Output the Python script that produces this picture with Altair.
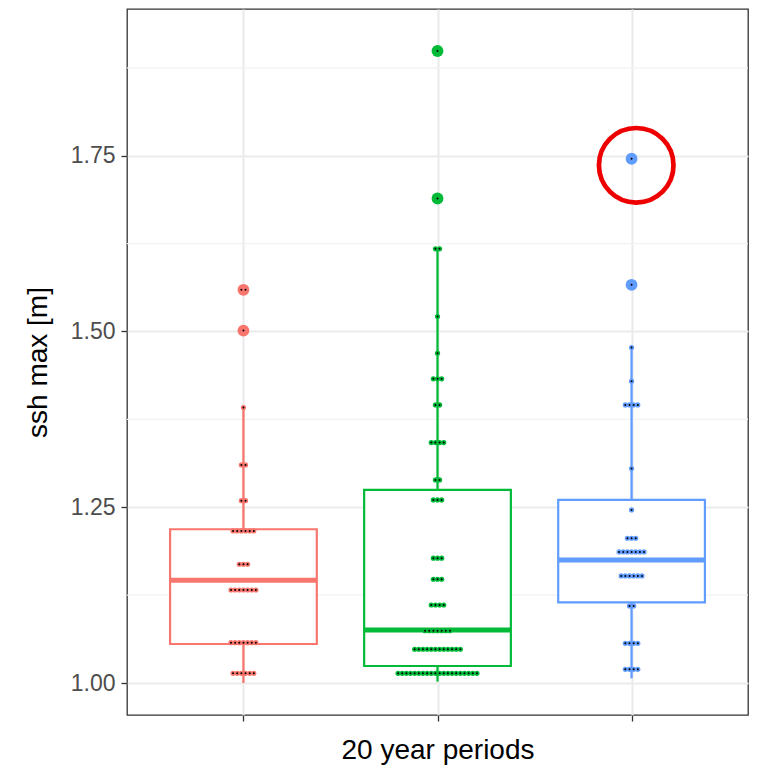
import altair as alt
import pandas as pd

# ---- data ----
group_pos = [1, 2, 3]
group_colors = ["#F8766D", "#00BA38", "#619CFF"]

# box statistics per group
box_q1 = [1.0555, 1.0242, 1.1148]
box_median = [1.1462, 1.0754, 1.1750]
box_q3 = [1.2187, 1.2747, 1.2604]
whisker_low = [1.000, 1.002, 1.0067]
whisker_high = [1.3918, 1.6176, 1.4772]

# outliers per group
outliers_1 = [1.5593, 1.5013]
outliers_2 = [1.8990, 1.6892]
outliers_3 = [1.7457, 1.5664]

# dot-plot bins (value, count) per group
dots_1_values = [1.5593, 1.5013, 1.3918, 1.3102, 1.2594, 1.2163, 1.1689, 1.1323, 1.0574, 1.0138]
dots_1_counts = [2, 1, 1, 2, 2, 6, 3, 7, 7, 6]
dots_2_values = [1.8990, 1.6892, 1.6176, 1.5213, 1.4692, 1.4326, 1.3956, 1.3420, 1.2889, 1.2604,
                 1.1775, 1.1476, 1.1110, 1.0744, 1.0480, 1.0138]
dots_2_counts = [1, 1, 2, 1, 1, 3, 2, 4, 2, 3, 3, 3, 4, 7, 12, 20]
dots_3_values = [1.7457, 1.5664, 1.4772, 1.4293, 1.3956, 1.3050, 1.2462, 1.2059, 1.1864, 1.1523,
                 1.1096, 1.0565, 1.0195]
dots_3_counts = [1, 1, 1, 1, 4, 1, 1, 3, 7, 6, 2, 4, 4]

minor_grid = [1.125, 1.375, 1.625, 1.875]
y_ticks = [1.00, 1.25, 1.50, 1.75]

# highlighted point (red circle annotation)
highlight_group = [3.024]
highlight_value = [1.7364]

# ---- build tables ----
BOX_HALF = 0.378
DOT_STEP = 0.0214

box_df = pd.DataFrame({
    "g": [str(p) for p in group_pos],
    "x": [p - BOX_HALF for p in group_pos],
    "x2": [p + BOX_HALF for p in group_pos],
    "xc": group_pos,
    "q1": box_q1, "med": box_median, "q3": box_q3,
    "lo": whisker_low, "hi": whisker_high,
})

out_rows = []
for p, vals in zip(group_pos, [outliers_1, outliers_2, outliers_3]):
    for v in vals:
        out_rows.append({"g": str(p), "x": p, "v": v})
out_df = pd.DataFrame(out_rows)

dot_rows = []
for p, vals, cnts in zip(group_pos, [dots_1_values, dots_2_values, dots_3_values],
                         [dots_1_counts, dots_2_counts, dots_3_counts]):
    for v, n in zip(vals, cnts):
        for i in range(n):
            dot_rows.append({"g": str(p), "x": p + (i - (n - 1) / 2) * DOT_STEP, "v": v})
dot_df = pd.DataFrame(dot_rows)

minor_df = pd.DataFrame({"v": minor_grid})
hl_df = pd.DataFrame({"x": highlight_group, "v": highlight_value})

# ---- scales / axes ----
xs = alt.Scale(domain=[0.4, 3.6], nice=False, zero=False)
ys = alt.Scale(domain=[0.9545, 1.9587], nice=False, zero=False)
color_scale = alt.Scale(domain=["1", "2", "3"], range=group_colors)

x_axis = alt.Axis(values=group_pos, labels=False, ticks=True, tickSize=6, tickColor="#333333",
                  tickWidth=1.3, grid=True, gridColor="#EBEBEB", gridWidth=2.2, domain=False,
                  title="20 year periods", titleFontSize=28, titleFont="Liberation Sans",
                  titleFontWeight="normal", titleColor="#000000", titlePadding=15)
y_axis = alt.Axis(values=y_ticks, format=".2f", labelFontSize=23, labelFont="Liberation Sans",
                  labelColor="#4D4D4D", labelPadding=6, ticks=True, tickSize=6, tickColor="#333333",
                  tickWidth=1.3, grid=True, gridColor="#EBEBEB", gridWidth=2.2, domain=False,
                  title="ssh max [m]", titleFontSize=28, titleFont="Liberation Sans",
                  titleFontWeight="normal", titleColor="#000000", titlePadding=18)


def X(field):
    return alt.X(field, type="quantitative", scale=xs, axis=x_axis)


def Y(field):
    return alt.Y(field, type="quantitative", scale=ys, axis=y_axis)


col = alt.Color("g:N", scale=color_scale, legend=None)

minor = alt.Chart(minor_df).mark_rule(color="#F2F2F2", strokeWidth=1.1).encode(y=Y("v"))

whisk_hi = alt.Chart(box_df).mark_rule(strokeWidth=2.3).encode(
    x=X("xc"), y=Y("q3"), y2="hi", color=col)
whisk_lo = alt.Chart(box_df).mark_rule(strokeWidth=2.3).encode(
    x=X("xc"), y=Y("lo"), y2="q1", color=col)
box = alt.Chart(box_df).mark_rect(fill="white", strokeWidth=2.2).encode(
    x=X("x"), x2="x2", y=Y("q1"), y2="q3", stroke=alt.Stroke("g:N", scale=color_scale, legend=None))
med = alt.Chart(box_df).mark_rule(strokeWidth=5).encode(
    x=X("x"), x2="x2", y=Y("med"), color=col)

outl = alt.Chart(out_df).mark_point(filled=True, shape="circle", size=140, opacity=1).encode(
    x=X("x"), y=Y("v"), color=col)

dots_ring = alt.Chart(dot_df).mark_point(filled=True, shape="circle", size=27, opacity=1).encode(
    x=X("x"), y=Y("v"), color=col)
dots_core = alt.Chart(dot_df).mark_point(filled=True, shape="circle", size=4, opacity=1,
                                         color="#000000").encode(x=X("x"), y=Y("v"))

hl = alt.Chart(hl_df).mark_point(shape="circle", filled=False, size=5560, strokeWidth=4.7,
                                 color="#EE0000", opacity=1).encode(x=X("x"), y=Y("v"))

chart = alt.layer(minor, whisk_hi, whisk_lo, box, med, outl, dots_ring, dots_core, hl).properties(
    width=621, height=706,
    autosize=alt.AutoSizeParams(type="none"),
    padding={"left": 127, "top": 9, "right": 10, "bottom": 54},
    background="white",
).configure_view(stroke="#333333", strokeWidth=1.3)

chart.save("out.html", embed_options={"renderer": "svg", "actions": False})
